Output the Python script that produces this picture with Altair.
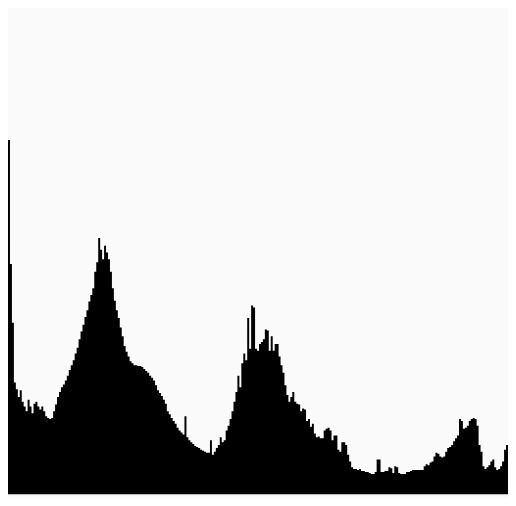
import altair as alt
import pandas as pd

# Histogram counts (256-level tonal histogram), left to right
shadows = [368, 239, 178, 116, 109, 101, 108, 96, 91, 86, 98, 91, 84, 94, 96, 91,
           88, 91, 86, 81, 79, 78, 79, 86, 93, 101, 106, 111, 114, 118, 123, 129]
first_peak = [134, 139, 146, 152, 161, 169, 176, 184, 191, 200, 207, 214, 231, 241, 266, 254,
              244, 258, 251, 244, 231, 214, 201, 191, 183, 173, 164, 154, 148, 143, 138, 136]
shoulder = [134, 134, 133, 133, 132, 130, 128, 126, 123, 121, 118, 113, 108, 105, 102, 98,
            94, 86, 83, 79, 76, 73, 69, 66, 64, 62, 81, 59, 56, 54, 52, 50]
valley = [49, 48, 46, 45, 44, 43, 43, 56, 41, 44, 48, 51, 59, 54, 56, 66,
          71, 78, 86, 96, 106, 123, 111, 136, 146, 139, 183, 151, 196, 194, 151, 149]
second_peak = [156, 158, 161, 171, 170, 149, 164, 149, 156, 156, 143, 134, 126, 113, 103, 96,
               101, 106, 96, 94, 93, 86, 89, 88, 76, 78, 70, 73, 63, 59, 60, 58]
descent = [58, 66, 68, 69, 66, 56, 61, 61, 46, 44, 54, 54, 51, 41, 34, 28,
           26, 26, 25, 26, 24, 24, 23, 23, 22, 21, 21, 23, 36, 36, 23, 23]
flat = [24, 24, 28, 27, 22, 29, 28, 22, 21, 21, 21, 23, 23, 24, 25, 25,
        25, 25, 25, 25, 29, 31, 30, 33, 34, 39, 43, 42, 39, 38, 39, 44]
highlights = [48, 49, 51, 55, 58, 61, 78, 76, 68, 69, 71, 76, 78, 79, 78, 71,
              51, 44, 29, 26, 28, 30, 34, 36, 28, 25, 26, 29, 34, 46, 51]

counts = shadows + first_peak + shoulder + valley + second_peak + descent + flat + highlights
n = len(counts)

df = pd.DataFrame({
    "level": list(range(n + 1)),
    "count": counts + [counts[-1]],
})

chart = (
    alt.Chart(df)
    .mark_area(color="#000000", interpolate="step-after", opacity=1)
    .encode(
        x=alt.X("level:Q", scale=alt.Scale(domain=[0, n], nice=False, zero=False), axis=None),
        y=alt.Y("count:Q", scale=alt.Scale(domain=[0, 501], nice=False), axis=None),
    )
    .properties(width=508, height=490, background="#fafafa", padding=0)
    .configure_view(stroke=None)
)

chart.save("out.html", embed_options={"renderer": "svg", "actions": False})
